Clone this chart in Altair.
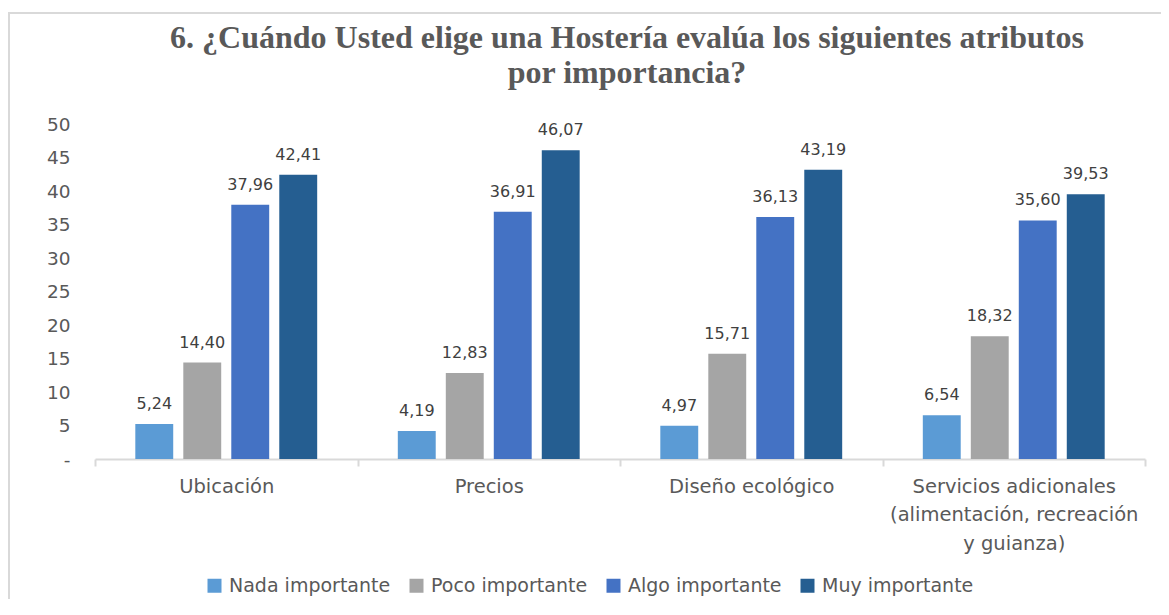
import altair as alt
import pandas as pd

categories = ["Ubicación", "Precios", "Diseño ecológico",
              "Servicios adicionales (alimentación, recreación y guianza)"]
series = ["Nada importante", "Poco importante", "Algo importante", "Muy importante"]
nada = [5.24, 4.19, 4.97, 6.54]
poco = [14.40, 12.83, 15.71, 18.32]
algo = [37.96, 36.91, 36.13, 35.60]
muy = [42.41, 46.07, 43.19, 39.53]
colors = ["#5B9BD5", "#A5A5A5", "#4472C4", "#255E91"]
y_ticks = [0, 5, 10, 15, 20, 25, 30, 35, 40, 45, 50]

rows = []
for s, vals in zip(series, [nada, poco, algo, muy]):
    for c, v in zip(categories, vals):
        rows.append({"cat": c, "serie": s, "valor": v})
df = pd.DataFrame(rows)

label_font = "DejaVu Sans"
gray = "#595959"

x_enc = alt.X("cat:N", sort=categories, title=None,
              scale=alt.Scale(paddingInner=0, paddingOuter=0),
              axis=alt.Axis(
                  labelAngle=0, labelFont=label_font, labelFontSize=19.5,
                  labelColor=gray, labelLineHeight=28.5, labelPadding=11,
                  domainColor="#D9D9D9", domainWidth=2, tickColor="#D9D9D9",
                  tickWidth=2, tickSize=7, tickBand="extent",
                  labelLimit=400,
                  labelExpr="datum.label == '" + categories[3] + "' ? ['Servicios adicionales', '(alimentación, recreación', 'y guianza)'] : datum.label"))
xoff = alt.XOffset("serie:N", sort=series,
                   scale=alt.Scale(paddingInner=0.21, paddingOuter=0.84))
y_enc = alt.Y("valor:Q", title=None,
              scale=alt.Scale(domain=[0, 50], nice=False),
              axis=alt.Axis(values=y_ticks, grid=False, domain=False,
                            ticks=False, labelFont=label_font, labelFontSize=18.5,
                            labelColor=gray, labelPadding=25, labelOverlap=False,
                            labelSeparation=0,
                            labelExpr="datum.value == 0 ? '-' : datum.label"))

base = alt.Chart(df)
bars = base.mark_bar().encode(
    x=x_enc, xOffset=xoff, y=y_enc,
    color=alt.Color("serie:N", sort=series,
                    scale=alt.Scale(domain=series, range=colors),
                    legend=alt.Legend(title=None, orient="none", direction="horizontal",
                                      legendX=110, legendY=452,
                                      symbolType="square", symbolSize=196,
                                      labelFont=label_font, labelFontSize=19,
                                      labelLimit=400,
                                      labelColor=gray, columnPadding=16,
                                      labelOffset=5, symbolStrokeWidth=0)),
)
texts = base.mark_text(baseline="bottom", dy=-12, font=label_font,
                       fontSize=16, color="#404040").encode(
    x=x_enc, xOffset=xoff, y=y_enc,
    text="lbl:N",
).transform_calculate(lbl="replace(format(datum.valor, '.2f'), '.', ',')")

frame = alt.Chart(pd.DataFrame({"a": [0]})).mark_rect(
    fill=None, stroke="#D9D9D9", strokeWidth=2).encode(
    x=alt.value(-86), x2=alt.value(1200), y=alt.value(-111), y2=alt.value(600))

chart = alt.layer(frame, bars, texts).properties(
    width=1050, height=335,
    padding={"left": 87, "top": 116, "right": 16, "bottom": 140},
    autosize=alt.AutoSizeParams(type="none"),
    title=alt.TitleParams(
        ["6. ¿Cuándo Usted elige una Hostería evalúa los siguientes atributos",
         "por importancia?"],
        font="Liberation Serif", fontSize=32, fontWeight="bold", color=gray,
        anchor="middle", frame="group", offset=-78, dx=7, lineHeight=35),
).configure_view(stroke=None).configure_axisY(labelOverlap=False)

chart.save("out.html", embed_options={"renderer": "svg", "actions": False})
